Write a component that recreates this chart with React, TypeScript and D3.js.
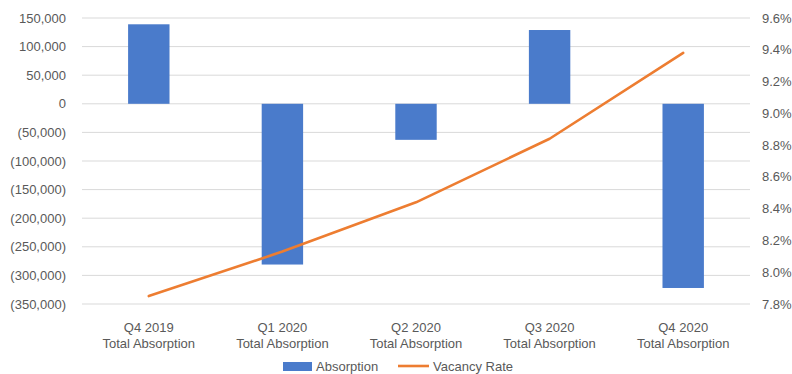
import React from "react";
import * as d3 from "d3";

const categories = ["Q4 2019", "Q1 2020", "Q2 2020", "Q3 2020", "Q4 2020"];
const categorySub = "Total Absorption";
const absorption = [139000, -281000, -63000, 129000, -322000];
const vacancyRate = [7.85, 8.13, 8.44, 8.84, 9.38];
const leftTicks = [150000, 100000, 50000, 0, -50000, -100000, -150000, -200000, -250000, -300000, -350000];
const rightTicks = [9.6, 9.4, 9.2, 9.0, 8.8, 8.6, 8.4, 8.2, 8.0, 7.8];
const seriesNames = ["Absorption", "Vacancy Rate"];

const W = 792;
const H = 374;
const left = 82;
const right = 750;
const top = 18;
const bottom = 304;
const font = "'Liberation Sans', Arial, sans-serif";
const fs = 13;
const textColor = "#595959";
const blue = "#4A7BCB";
const orange = "#ED7D31";

export default function App() {
  const x = d3.scaleBand<string>().domain(categories).range([left, right]).paddingInner(0).paddingOuter(0);
  const yL = d3.scaleLinear().domain([-350000, 150000]).range([bottom, top]);
  const yR = d3.scaleLinear().domain([7.8, 9.6]).range([bottom, top]);
  const barW = x.bandwidth() * 0.31;
  const fmtL = (v: number) => {
    const s = d3.format(",")(Math.abs(v));
    return v < 0 ? `(${s})` : s;
  };
  const line = d3
    .line<number>()
    .x((_, i) => (x(categories[i]) as number) + x.bandwidth() / 2)
    .y((d) => yR(d));

  return (
    <svg width={W} height={H} style={{ position: "absolute", left: 0, top: 0, background: "#fff" }}>
      {leftTicks.map((t) => (
        <line key={"g" + t} x1={left} x2={right} y1={yL(t)} y2={yL(t)} stroke="#D9D9D9" strokeWidth={1} />
      ))}
      {leftTicks.map((t) => (
        <text key={"l" + t} x={66} y={yL(t)} dy="0.35em" textAnchor="end" fontFamily={font} fontSize={fs} fill={textColor}>
          {fmtL(t)}
        </text>
      ))}
      {rightTicks.map((t) => (
        <text key={"r" + t} x={762} y={yR(t)} dy="0.35em" textAnchor="start" fontFamily={font} fontSize={fs} fill={textColor}>
          {d3.format(".1f")(t) + "%"}
        </text>
      ))}
      {absorption.map((v, i) => {
        const cx = (x(categories[i]) as number) + x.bandwidth() / 2;
        const y0 = yL(0);
        const y1 = yL(v);
        return (
          <rect key={"b" + i} x={cx - barW / 2} y={Math.min(y0, y1)} width={barW} height={Math.abs(y1 - y0)} fill={blue} />
        );
      })}
      <path d={line(vacancyRate) || ""} fill="none" stroke={orange} strokeWidth={2.6} strokeLinecap="round" strokeLinejoin="round" />
      {categories.map((c) => {
        const cx = (x(c) as number) + x.bandwidth() / 2;
        return (
          <g key={"c" + c}>
            <text x={cx} y={327} dy="0.35em" textAnchor="middle" fontFamily={font} fontSize={fs} fill={textColor}>
              {c}
            </text>
            <text x={cx} y={343} dy="0.35em" textAnchor="middle" fontFamily={font} fontSize={fs} fill={textColor}>
              {categorySub}
            </text>
          </g>
        );
      })}
      <rect x={283} y={362} width={29} height={9} fill={blue} />
      <text x={316} y={366} dy="0.35em" fontFamily={font} fontSize={fs} fill={textColor}>
        {seriesNames[0]}
      </text>
      <line x1={398} x2={429} y1={366} y2={366} stroke={orange} strokeWidth={2.6} />
      <text x={433} y={366} dy="0.35em" fontFamily={font} fontSize={fs} fill={textColor}>
        {seriesNames[1]}
      </text>
    </svg>
  );
}
